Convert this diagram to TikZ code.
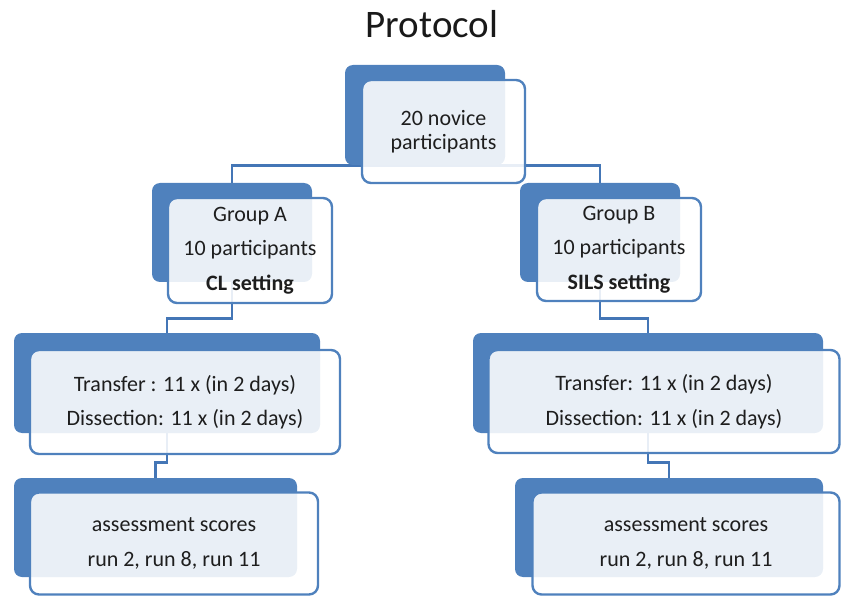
\documentclass[tikz,border=0pt]{standalone}
\usepackage{fontspec}
\setmainfont{Carlito}
\usetikzlibrary{backgrounds}
\definecolor{boxblue}{RGB}{79,129,189}
\definecolor{linecol}{RGB}{68,118,182}
\definecolor{textc}{RGB}{30,30,30}
\tikzset{
  backbox/.style={fill=boxblue, rounded corners=8pt, inner sep=0pt},
  frontbox/.style={draw=boxblue, line width=2.4pt, fill=white, fill opacity=0.88, text opacity=1,
    rounded corners=9pt, inner sep=0pt, align=center, text=textc,
    font=\fontsize{22}{34.5}\selectfont},
  conn/.style={draw=linecol, line width=2.8pt},
}
\begin{document}
\begin{tikzpicture}[x=1pt,y=-1pt]
\useasboundingbox (0,0) rectangle (841,596);
\node (title) at (432,24) {\fontsize{39}{44}\selectfont\color{black!90}Protocol};
% back boxes
\node[backbox, minimum width=160pt, minimum height=100pt] (bTop) at (425,115) {};
\node[backbox, minimum width=160pt, minimum height=99pt] (bGA) at (232,232.5) {};
\node[backbox, minimum width=160pt, minimum height=99pt] (bGB) at (600,232.5) {};
\node[backbox, minimum width=306pt, minimum height=100pt] (bTA) at (167,383) {};
\node[backbox, minimum width=350pt, minimum height=100pt] (bTB) at (648,383) {};
\node[backbox, minimum width=283pt, minimum height=99pt] (bAA) at (155.5,527.5) {};
\node[backbox, minimum width=308pt, minimum height=99pt] (bAB) at (669,527.5) {};
% front boxes
\node[frontbox, minimum width=163pt, minimum height=103pt, font=\fontsize{22}{24.5}\selectfont] (fTop) at (443.5,131.5) {20 novice\\participants};
\node[frontbox, minimum width=164pt, minimum height=105pt] (fGA) at (250,250.5) {Group A\\10 participants\\\textbf{CL setting}};
\node[frontbox, minimum width=164pt, minimum height=103pt] (fGB) at (619,249.5) {Group B\\10 participants\\\textbf{SILS setting}};
\node[frontbox, minimum width=310pt, minimum height=104pt] (fTA) at (185,402) {Transfer : 11 x (in 2 days)\\Dissection: 11 x (in 2 days)};
\node[frontbox, minimum width=351pt, minimum height=103pt] (fTB) at (664,401.5) {Transfer: 11 x (in 2 days)\\Dissection: 11 x (in 2 days)};
\node[frontbox, minimum width=288pt, minimum height=102pt] (fAA) at (174,543.5) {assessment scores\\run 2, run 8, run 11};
\node[frontbox, minimum width=307pt, minimum height=102pt] (fAB) at (686,543.5) {assessment scores\\run 2, run 8, run 11};
% connectors
\begin{pgfonlayer}{background}
\draw[conn] (bTop.south) -| (bGA.north);
\draw[conn] (bTop.south) -| (bGB.north);
\draw[conn] (bGA.south) -- ++(0,36) -| (bTA.north);
\draw[conn] (bGB.south) -- ++(0,36) -| (bTB.north);
\draw[conn] (bTA.south) -- ++(0,29) -| (bAA.north);
\draw[conn] (bTB.south) -- ++(0,29) -| (bAB.north);
\end{pgfonlayer}
\end{tikzpicture}
\end{document}
